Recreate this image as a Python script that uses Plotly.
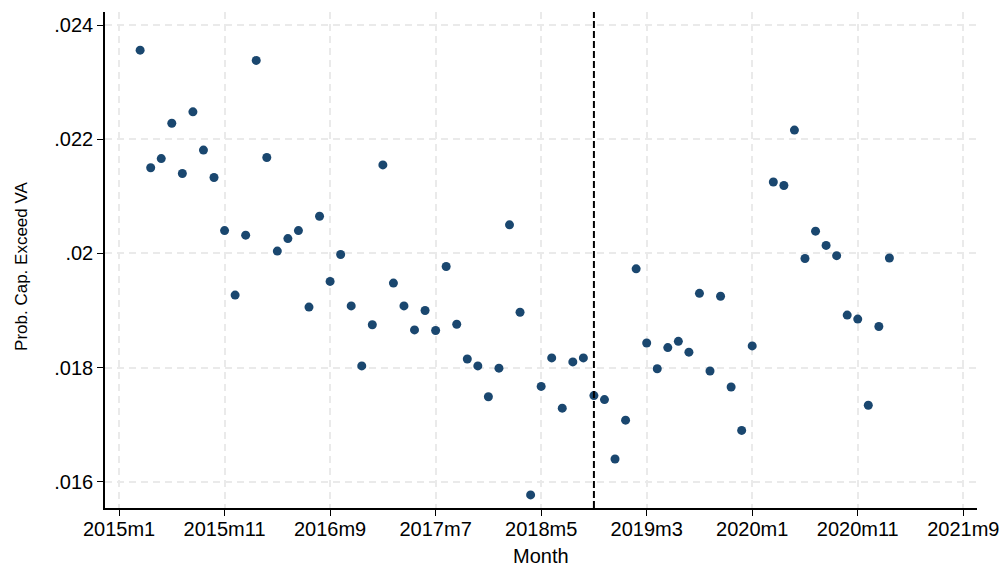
import plotly.graph_objects as go

# Monthly observations: month labels (Stata %tm style) and values
months = [
    "2015m3", "2015m4", "2015m5", "2015m6", "2015m7", "2015m8", "2015m9", "2015m10",
    "2015m11", "2015m12", "2016m1", "2016m2", "2016m3", "2016m4", "2016m5", "2016m6",
    "2016m7", "2016m8", "2016m9", "2016m10", "2016m11", "2016m12", "2017m1", "2017m2",
    "2017m3", "2017m4", "2017m5", "2017m6", "2017m7", "2017m8", "2017m9", "2017m10",
    "2017m11", "2017m12", "2018m1", "2018m2", "2018m3", "2018m4", "2018m5", "2018m6",
    "2018m7", "2018m8", "2018m9", "2018m10", "2018m11", "2018m12", "2019m1", "2019m2",
    "2019m3", "2019m4", "2019m5", "2019m6", "2019m7", "2019m8", "2019m9", "2019m10",
    "2019m11", "2019m12", "2020m1", "2020m3", "2020m4", "2020m5", "2020m6", "2020m7",
    "2020m8", "2020m9", "2020m10", "2020m11", "2020m12", "2021m1", "2021m2",
]
values = [
    0.02356, 0.02150, 0.02166, 0.02228, 0.02140, 0.02248, 0.02181, 0.02133,
    0.02040, 0.01927, 0.02032, 0.02338, 0.02168, 0.02004, 0.02026, 0.02040,
    0.01906, 0.02065, 0.01951, 0.01998, 0.01908, 0.01803, 0.01875, 0.02155,
    0.01948, 0.01908, 0.01866, 0.01900, 0.01865, 0.01977, 0.01876, 0.01815,
    0.01803, 0.01749, 0.01799, 0.02050, 0.01897, 0.01577, 0.01767, 0.01817,
    0.01729, 0.01810, 0.01817, 0.01751, 0.01744, 0.01640, 0.01708, 0.01973,
    0.01843, 0.01798, 0.01835, 0.01846, 0.01827, 0.01930, 0.01794, 0.01925,
    0.01766, 0.01690, 0.01838, 0.02125, 0.02119, 0.02216, 0.01991, 0.02039,
    0.02014, 0.01996, 0.01892, 0.01885, 0.01734, 0.01872, 0.01992,
]

x_tick_labels = ["2015m1", "2015m11", "2016m9", "2017m7", "2018m5",
                 "2019m3", "2020m1", "2020m11", "2021m9"]
y_tick_values = [0.016, 0.018, 0.020, 0.022, 0.024]
y_tick_labels = [".016", ".018", ".02", ".022", ".024"]
cutoff_month = "2018m10"
x_title = "Month"
y_title = "Prob. Cap. Exceed VA"


def month_index(label):
    y, m = label.split("m")
    return (int(y) - 2015) * 12 + (int(m) - 1)


x_vals = [month_index(m) for m in months]
x_tick_vals = [month_index(m) for m in x_tick_labels]
cutoff = month_index(cutoff_month)

fig = go.Figure()
fig.add_trace(go.Scatter(
    x=x_vals, y=values, mode="markers",
    marker=dict(color="#1a476f", size=9, line=dict(width=0)),
    showlegend=False, hoverinfo="skip",
))

fig.add_shape(type="line", xref="x", yref="paper",
              x0=cutoff, x1=cutoff, y0=0, y1=1,
              line=dict(color="black", width=2, dash="7px,3px"))

fig.add_annotation(text=x_title, xref="paper", yref="paper", x=0.5, y=-0.0968,
                   xanchor="center", yanchor="middle", showarrow=False,
                   font=dict(size=20, color="black"))
fig.add_annotation(text=y_title, xref="paper", yref="paper", x=-0.0952, y=0.488,
                   xanchor="center", yanchor="middle", showarrow=False,
                   textangle=-90, font=dict(size=17, color="black"))

font = "Liberation Sans, Arial, sans-serif"
fig.update_layout(
    width=1002, height=568,
    margin=dict(l=105, r=25, t=12, b=60),
    plot_bgcolor="white", paper_bgcolor="white",
    font=dict(family=font, size=20, color="black"),
    xaxis=dict(
        range=[-1.33, 81.3], automargin=False,
        tickvals=x_tick_vals, ticktext=x_tick_labels,
        showline=True, linecolor="black", linewidth=1.5,
        ticks="outside", ticklen=6, tickcolor="black",
        ticklabelstandoff=-4,
        showgrid=True, gridcolor="#eaeaea", gridwidth=1.5, griddash="7px,5px",
        zeroline=False,
        tickfont=dict(size=20),
    ),
    yaxis=dict(
        range=[0.015541, 0.024228], automargin=False,
        tickvals=y_tick_values, ticktext=y_tick_labels,
        showline=True, linecolor="black", linewidth=1.5,
        ticks="outside", ticklen=6, tickcolor="black",
        showgrid=True, gridcolor="#eaeaea", gridwidth=1.5, griddash="7px,5px",
        zeroline=False,
        tickfont=dict(size=20),
    ),
)

fig.write_html("out.html")
